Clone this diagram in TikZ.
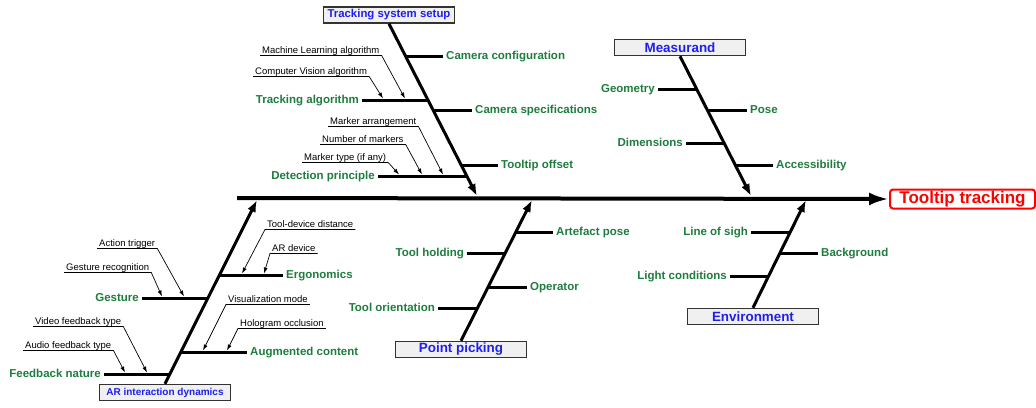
\documentclass[tikz,border=0pt]{standalone}
\usepackage{fontspec}
\setmainfont{Liberation Sans}
\usepackage{tikz}
\usetikzlibrary{arrows.meta,calc,positioning}

\definecolor{causegreen}{RGB}{30,125,62}
\definecolor{catblue}{RGB}{30,30,240}

\begin{document}
\begin{tikzpicture}[x=1pt, y=-1pt, >={Latex[length=6pt,width=4pt]}]

    \tikzstyle{cat} = [rectangle, draw=black!80, line width=1.5pt, fill=black!6, minimum width=131pt, minimum height=16pt, inner sep=0pt, text=catblue, font=\fontsize{13.4}{14}\selectfont\bfseries]
    \tikzstyle{effect} = [rectangle, rounded corners=3pt, draw=red, line width=2pt, minimum width=145pt, minimum height=19pt, inner sep=0pt, text=red, font=\fontsize{17}{18}\selectfont\bfseries]
    \tikzstyle{cause} = [inner xsep=3pt, inner ysep=0pt, text height=8.5pt, text depth=2pt, text=causegreen, font=\fontsize{11.5}{13}\selectfont\bfseries]
    \tikzstyle{note} = [inner xsep=2pt, inner ysep=1.5pt, text height=7pt, text depth=0.5pt, font=\fontsize{9.5}{11}\selectfont]
    \tikzstyle{spine} = [line width=4pt, -{Latex[length=20pt,width=13pt]}]
    \tikzstyle{bone} = [line width=3pt, -{Latex[length=12pt,width=9pt]}]
    \tikzstyle{twig} = [line width=3pt]
    \tikzstyle{hint} = [line width=0.7pt, ->]

    \useasboundingbox (0,0) rectangle (1036,407);

    % effect and spine
    \node (eff)  [effect, anchor=west]  at (889,199)   {Tooltip tracking};
    \coordinate (tail) at (237,198);
    \draw[spine] (tail) -- (eff.west);

    % categories
    \node (tss)  [cat, font=\fontsize{11.4}{12}\selectfont\bfseries]  at (389,15)    {Tracking system setup};
    \node (meas) [cat]                                                at (680,47.5)  {Measurand};
    \node (ard)  [cat, font=\fontsize{10}{11}\selectfont\bfseries]    at (165,392.5) {AR interaction dynamics};
    \node (pp)   [cat]                                                at (461,349.5) {Point picking};
    \node (env)  [cat]                                                at (753,316.5) {Environment};

    \coordinate (tss tip)  at (477,196);
    \coordinate (meas tip) at (751,196);
    \coordinate (ard tip)  at (257,200);
    \coordinate (pp tip)   at (532,200);
    \coordinate (env tip)  at (806,200);

    \draw[bone] (tss.south)  -- (tss tip);
    \draw[bone] (meas.south) -- (meas tip);
    \draw[bone] (ard.north)  -- (ard tip);
    \draw[bone] (pp.north)   -- (pp tip);
    \draw[bone] (env.north)  -- (env tip);

    % tracking system setup
    \node (cc)   [cause, anchor=west]  at (443,56)   {Camera configuration};
    \node (ta)   [cause, anchor=east]  at (362,100)  {Tracking algorithm};
    \node (cs)   [cause, anchor=west]  at (472,110)  {Camera specifications};
    \node (to)   [cause, anchor=west]  at (498,165)  {Tooltip offset};
    \node (dp)   [cause, anchor=east]  at (378,176)  {Detection principle};

    \coordinate (cc b) at (405.8,56);
    \coordinate (ta b) at (428.2,100);
    \coordinate (cs b) at (433.3,110);
    \coordinate (to b) at (461.2,165);
    \coordinate (dp b) at (466.8,176);

    \draw[twig] (cc b) -- (cc);
    \draw[twig] (ta) -- (ta b);
    \draw[twig] (cs b) -- (cs);
    \draw[twig] (to b) -- (to);
    \draw[twig] (dp) -- (dp b);

    \node (ml)   [note, anchor=south west]  at (260,55.5)   {Machine Learning algorithm};
    \node (cv)   [note, anchor=south west]  at (253,76.5)   {Computer Vision algorithm};
    \node (ma)   [note, anchor=south west]  at (328,126.5)  {Marker arrangement};
    \node (nm)   [note, anchor=south west]  at (320,144.5)  {Number of markers};
    \node (mt)   [note, anchor=south west]  at (302,162.5)  {Marker type (if any)};

    \coordinate (ml t) at (405,98.5);
    \coordinate (cv t) at (383,98.5);
    \coordinate (ma t) at (443,174.5);
    \coordinate (nm t) at (422,174.5);
    \coordinate (mt t) at (399,174.5);

    \draw[hint] (ml.south west) -- (ml.south east) -- (ml t);
    \draw[hint] (cv.south west) -- (cv.south east) -- (cv t);
    \draw[hint] (ma.south west) -- (ma.south east) -- (ma t);
    \draw[hint] (nm.south west) -- (nm.south east) -- (nm t);
    \draw[hint] (mt.south west) -- (mt.south east) -- (mt t);

    % measurand
    \node (geo)  [cause, anchor=east]  at (658,89)   {Geometry};
    \node (pose) [cause, anchor=west]  at (747,110)  {Pose};
    \node (dim)  [cause, anchor=east]  at (686,143)  {Dimensions};
    \node (acc)  [cause, anchor=west]  at (773,165)  {Accessibility};

    \coordinate (geo b)  at (696.7,89);
    \coordinate (pose b) at (707.4,110);
    \coordinate (dim b)  at (724.1,143);
    \coordinate (acc b)  at (735.3,165);

    \draw[twig] (geo) -- (geo b);
    \draw[twig] (pose b) -- (pose);
    \draw[twig] (dim) -- (dim b);
    \draw[twig] (acc b) -- (acc);

    % AR interaction dynamics
    \node (erg)  [cause, anchor=west]  at (283,275)  {Ergonomics};
    \node (ges)  [cause, anchor=east]  at (142,298)  {Gesture};
    \node (aug)  [cause, anchor=west]  at (247,352)  {Augmented content};
    \node (fb)   [cause, anchor=east]  at (104,374)  {Feedback nature};

    \coordinate (erg b) at (219.5,275);
    \coordinate (ges b) at (208,298);
    \coordinate (aug b) at (181,352);
    \coordinate (fb b)  at (170,374);

    \draw[twig] (erg b) -- (erg);
    \draw[twig] (ges) -- (ges b);
    \draw[twig] (aug b) -- (aug);
    \draw[twig] (fb) -- (fb b);

    \node (td)   [note, anchor=south west]  at (265,229.5)  {Tool-device distance};
    \node (ar)   [note, anchor=south west]  at (270,253.5)  {AR device};
    \node (at)   [note, anchor=south west]  at (97,248.5)   {Action trigger};
    \node (gr)   [note, anchor=south west]  at (64,272.5)   {Gesture recognition};
    \node (vm)   [note, anchor=south west]  at (226,304.5)  {Visualization mode};
    \node (ho)   [note, anchor=south west]  at (238,328.5)  {Hologram occlusion};
    \node (vf)   [note, anchor=south west]  at (33,326.5)   {Video feedback type};
    \node (af)   [note, anchor=south west]  at (23,350.5)   {Audio feedback type};

    \coordinate (td t) at (242,273.5);
    \coordinate (ar t) at (264,273.5);
    \coordinate (at t) at (184,296.5);
    \coordinate (gr t) at (162,296.5);
    \coordinate (vm t) at (203,350.5);
    \coordinate (ho t) at (227,350.5);
    \coordinate (vf t) at (147,372.5);
    \coordinate (af t) at (125,372.5);

    \draw[hint] (td.south east) -- (td.south west) -- (td t);
    \draw[hint] (ar.south east) -- (ar.south west) -- (ar t);
    \draw[hint] (at.south west) -- (at.south east) -- (at t);
    \draw[hint] (gr.south west) -- (gr.south east) -- (gr t);
    \draw[hint] (vm.south east) -- (vm.south west) -- (vm t);
    \draw[hint] (ho.south east) -- (ho.south west) -- (ho t);
    \draw[hint] (vf.south west) -- (vf.south east) -- (vf t);
    \draw[hint] (af.south west) -- (af.south east) -- (af t);

    % point picking
    \node (ap)   [cause, anchor=west]  at (553,232)  {Artefact pose};
    \node (th)   [cause, anchor=east]  at (467,253)  {Tool holding};
    \node (op)   [cause, anchor=west]  at (527,287)  {Operator};
    \node (tor)  [cause, anchor=east]  at (438,308)  {Tool orientation};

    \coordinate (ap b)  at (515.9,232);
    \coordinate (th b)  at (505.3,253);
    \coordinate (op b)  at (488.2,287);
    \coordinate (tor b) at (477.6,308);

    \draw[twig] (ap b) -- (ap);
    \draw[twig] (th) -- (th b);
    \draw[twig] (op b) -- (op);
    \draw[twig] (tor) -- (tor b);

    % environment
    \node (los)  [cause, anchor=east]  at (751,232)  {Line of sigh};
    \node (bg)   [cause, anchor=west]  at (818,253)  {Background};
    \node (lc)   [cause, anchor=east]  at (730,276)  {Light conditions};

    \coordinate (los b) at (790.3,232);
    \coordinate (bg b)  at (780,253);
    \coordinate (lc b)  at (768.7,276);

    \draw[twig] (los) -- (los b);
    \draw[twig] (bg b) -- (bg);
    \draw[twig] (lc) -- (lc b);

\end{tikzpicture}
\end{document}
